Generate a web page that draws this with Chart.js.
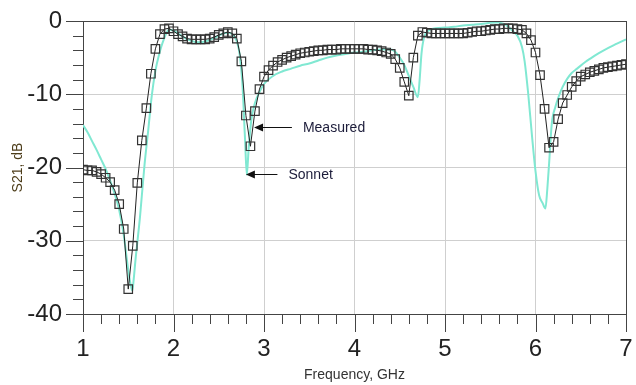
<!DOCTYPE html>
<html>
<head>
<meta charset="utf-8">
<script src="https://cdn.jsdelivr.net/npm/chart.js@4/dist/chart.umd.min.js"></script>
<style>
	html, body { margin: 0; padding: 0; background: #fff; }
	canvas { display: block; }
</style>
</head>
<body>
<canvas id="s21Chart" width="636" height="385"></canvas>
<script>
// Measured S21 (square markers), GHz / dB
const measuredFreq = [
	1.00, 1.05, 1.10, 1.15, 1.20, 1.25, 1.30, 1.35, 1.40, 1.45,
	1.50, 1.55, 1.60, 1.65, 1.70, 1.75, 1.80, 1.85, 1.90, 1.95,
	2.00, 2.05, 2.10, 2.15, 2.20, 2.25, 2.30, 2.35, 2.40, 2.45,
	2.50, 2.55, 2.60, 2.65, 2.70, 2.75, 2.80, 2.85, 2.90, 2.95,
	3.00, 3.05, 3.10, 3.15, 3.20, 3.25, 3.30, 3.35, 3.40, 3.45,
	3.50, 3.55, 3.60, 3.65, 3.70, 3.75, 3.80, 3.85, 3.90, 3.95,
	4.00, 4.05, 4.10, 4.15, 4.20, 4.25, 4.30, 4.35, 4.40, 4.45,
	4.50, 4.55, 4.60, 4.65, 4.70, 4.75, 4.80, 4.85, 4.90, 4.95,
	5.00, 5.05, 5.10, 5.15, 5.20, 5.25, 5.30, 5.35, 5.40, 5.45,
	5.50, 5.55, 5.60, 5.65, 5.70, 5.75, 5.80, 5.85, 5.90, 5.95,
	6.00, 6.05, 6.10, 6.15, 6.20, 6.25, 6.30, 6.35, 6.40, 6.45,
	6.50, 6.55, 6.60, 6.65, 6.70, 6.75, 6.80, 6.85, 6.90, 6.95,
	7.00
];
const measuredDb = [
	-20.3, -20.4, -20.4, -20.6, -20.9, -21.4, -22.0, -23.1, -25.0, -28.4,
	-36.6, -30.7, -22.1, -16.3, -11.9, -7.2, -3.8, -1.8, -1.1, -1.0,
	-1.4, -1.8, -2.1, -2.4, -2.5, -2.5, -2.5, -2.5, -2.4, -2.2,
	-1.9, -1.7, -1.5, -1.7, -2.4, -5.5, -12.9, -17.1, -12.3, -9.3,
	-7.6, -6.7, -6.1, -5.6, -5.3, -5.0, -4.8, -4.6, -4.4, -4.3,
	-4.2, -4.1, -4.0, -4.0, -3.9, -3.9, -3.9, -3.8, -3.8, -3.8,
	-3.8, -3.8, -3.8, -3.9, -3.9, -4.0, -4.1, -4.3, -4.5, -5.2,
	-6.4, -8.3, -10.2, -5.0, -2.0, -1.5, -1.6, -1.7, -1.7, -1.7,
	-1.7, -1.7, -1.7, -1.7, -1.7, -1.6, -1.5, -1.4, -1.4, -1.3,
	-1.2, -1.1, -1.1, -1.0, -1.0, -1.0, -1.1, -1.2, -1.7, -2.6,
	-4.3, -7.4, -12.0, -17.3, -16.5, -13.4, -11.2, -10.1, -9.0, -8.2,
	-7.6, -7.3, -7.0, -6.8, -6.6, -6.4, -6.3, -6.2, -6.1, -6.0,
	-5.9
];

// Sonnet simulation (plain line)
const sonnetFreq = [
	1.00, 1.05, 1.10, 1.15, 1.20, 1.25, 1.30, 1.35, 1.40, 1.45,
	1.50, 1.53, 1.545, 1.56, 1.58, 1.63, 1.68, 1.72, 1.76, 1.80, 1.84,
	1.89, 1.95, 2.00, 2.05, 2.10, 2.15, 2.20, 2.25, 2.30, 2.35,
	2.40, 2.45, 2.50, 2.55, 2.60, 2.65, 2.70, 2.73, 2.76, 2.79,
	2.81, 2.83, 2.86, 2.90, 2.95, 3.00, 3.10, 3.20, 3.30, 3.40,
	3.50, 3.60, 3.70, 3.80, 3.90, 4.00, 4.10, 4.20, 4.30, 4.40,
	4.45, 4.50, 4.55, 4.60, 4.65, 4.70, 4.72, 4.74, 4.77, 4.82,
	4.90, 5.00, 5.10, 5.20, 5.30, 5.40, 5.50, 5.58, 5.65, 5.70,
	5.76, 5.80, 5.85, 5.88, 5.92, 5.96, 6.00, 6.04, 6.08, 6.11,
	6.13, 6.15, 6.18, 6.22, 6.26, 6.30, 6.35, 6.40, 6.46, 6.55,
	6.61, 6.70, 6.80, 6.90, 7.00
];
const sonnetDb = [
	-14.2, -15.2, -16.4, -17.6, -18.9, -20.2, -21.8, -23.6, -25.8, -29.2,
	-34.0, -36.2, -36.8, -35.3, -32.6, -26.7, -19.6, -15.0, -10.2, -6.8, -4.6,
	-2.6, -1.2, -1.3, -1.7, -2.1, -2.5, -2.7, -2.9, -2.9, -2.8,
	-2.6, -2.3, -2.0, -1.7, -1.6, -1.8, -2.8, -4.5, -8.3, -16.0,
	-21.0, -17.5, -13.5, -11.2, -9.7, -8.6, -7.5, -6.9, -6.5, -6.1,
	-5.8, -5.4, -5.0, -4.7, -4.5, -4.3, -4.2, -4.0, -3.9, -3.9,
	-4.2, -5.0, -6.0, -7.5, -9.0, -10.4, -8.0, -4.5, -2.2, -1.3,
	-1.0, -0.9, -0.8, -0.6, -0.5, -0.4, -0.25, -0.2, -0.4, -0.8,
	-1.5, -2.0, -3.5, -5.5, -10.0, -15.5, -20.5, -23.8, -24.9, -25.6,
	-23.0, -19.5, -14.0, -11.7, -10.2, -9.0, -7.9, -7.1, -6.5, -5.6,
	-5.1, -4.4, -3.7, -3.1, -2.5
];

// arrow labels: tip is where the arrow points, text starts at textX
const notes = [
	{ text: 'Measured', tipX: 2.89, tipY: -14.5, textX: 3.43 },
	{ text: 'Sonnet', tipX: 2.80, tipY: -20.9, textX: 3.27 }
];

const FONT = "'Liberation Sans', Arial, sans-serif";
Chart.defaults.font.family = FONT;

const toPoints = (xs, ys) => xs.map((x, i) => ({ x: x, y: ys[i] }));

// minor/major ticks outside the frame, top/right border, arrow labels
const frameTicks = {
	id: 'frameTicks',
	afterDraw(chart) {
		const { ctx, chartArea: a, scales: { x, y } } = chart;
		ctx.save();
		ctx.strokeStyle = '#444';
		ctx.lineWidth = 1;
		ctx.beginPath();
		for (let v = -40; v <= 0.001; v += 2) {
			const py = Math.round(y.getPixelForValue(v)) + 0.5;
			const len = (Math.round(v) % 10 === 0) ? 17 : 10;
			ctx.moveTo(a.left - len, py);
			ctx.lineTo(a.left, py);
		}
		for (let v = 1; v <= 7.001; v += 0.2) {
			const px = Math.round(x.getPixelForValue(v)) + 0.5;
			const major = Math.abs(v - Math.round(v)) < 0.01;
			ctx.moveTo(px, a.bottom);
			ctx.lineTo(px, a.bottom + (major ? 18 : 10));
		}
		// top and right border
		ctx.moveTo(a.left, Math.round(a.top) + 0.5);
		ctx.lineTo(a.right, Math.round(a.top) + 0.5);
		ctx.moveTo(Math.round(a.right) + 0.5, a.top);
		ctx.lineTo(Math.round(a.right) + 0.5, a.bottom);
		ctx.stroke();

		ctx.strokeStyle = '#111';
		ctx.fillStyle = '#111';
		ctx.font = '14px ' + FONT;
		ctx.textBaseline = 'middle';
		notes.forEach(n => {
			const tx = x.getPixelForValue(n.tipX);
			const ty = Math.round(y.getPixelForValue(n.tipY)) + 0.5;
			const sx = x.getPixelForValue(n.textX);
			ctx.beginPath();
			ctx.moveTo(sx - 11, ty);
			ctx.lineTo(tx + 6, ty);
			ctx.stroke();
			ctx.beginPath();
			ctx.moveTo(tx, ty);
			ctx.lineTo(tx + 9, ty - 4);
			ctx.lineTo(tx + 9, ty + 4);
			ctx.closePath();
			ctx.fill();
			ctx.fillStyle = '#1c1c3a';
			ctx.fillText(n.text, sx, ty + 1);
			ctx.fillStyle = '#111';
		});
		ctx.restore();
	}
};

const bgPlugin = {
	id: 'bg',
	beforeDraw(chart) {
		const ctx = chart.ctx;
		ctx.save();
		ctx.fillStyle = '#fff';
		ctx.fillRect(0, 0, chart.width, chart.height);
		ctx.restore();
	}
};

const data = {
	datasets: [{
		label: 'Measured',
		data: toPoints(measuredFreq, measuredDb),
		borderColor: '#222',
		borderWidth: 1,
		pointStyle: 'rect',
		pointRadius: 6,
		pointBorderColor: '#333',
		pointBorderWidth: 1.2,
		pointBackgroundColor: 'rgba(0,0,0,0)',
		tension: 0
	}, {
		label: 'Sonnet',
		data: toPoints(sonnetFreq, sonnetDb),
		borderColor: '#80e8d2',
		borderWidth: 2,
		pointRadius: 0,
		cubicInterpolationMode: 'monotone'
	}]
};

const config = {
	type: 'line',
	data: data,
	options: {
		responsive: false,
		animation: false,
		layout: { padding: { top: 21, right: 10, left: 7, bottom: 0 } },
		plugins: {
			legend: { display: false },
			tooltip: { enabled: false }
		},
		scales: {
			x: {
				type: 'linear',
				min: 1,
				max: 7,
				afterFit(s) { s.height = 71; },
				ticks: { stepSize: 1, padding: 3, color: '#222', font: { size: 24 }, maxRotation: 0 },
				grid: { color: '#cfcfcf', drawTicks: true, tickLength: 18, tickColor: 'rgba(0,0,0,0)' },
				border: { color: '#444' },
				title: { display: true, text: 'Frequency, GHz', color: '#333', font: { size: 14 }, padding: { top: 2, bottom: 1 } }
			},
			y: {
				min: -40,
				max: 0,
				afterFit(s) { s.width = 76; },
				ticks: { stepSize: 10, padding: 4, color: '#222', font: { size: 24 } },
				grid: { color: '#cfcfcf', drawTicks: true, tickLength: 17, tickColor: 'rgba(0,0,0,0)' },
				border: { color: '#444' },
				title: { display: true, text: 'S21, dB', color: '#4d3d1a', font: { size: 14 }, padding: { top: 3, bottom: 0 } }
			}
		}
	},
	plugins: [bgPlugin, frameTicks]
};

new Chart(document.getElementById('s21Chart'), config);
</script>
</body>
</html>
